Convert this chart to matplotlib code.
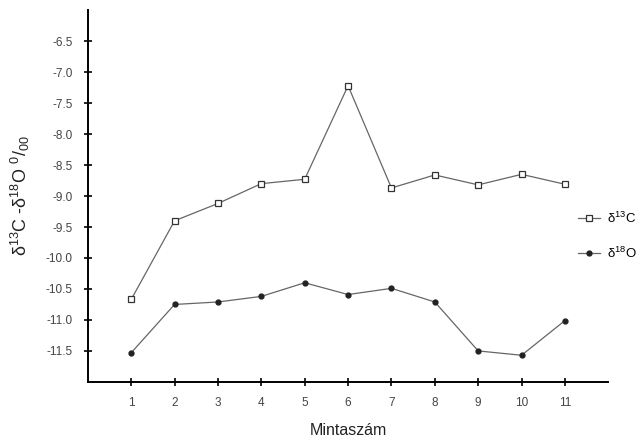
import matplotlib
matplotlib.use("Agg")
import matplotlib.pyplot as plt

samples = [1, 2, 3, 4, 5, 6, 7, 8, 9, 10, 11]
d13C = [-10.67, -9.40, -9.12, -8.80, -8.73, -7.22, -8.87, -8.66, -8.82, -8.65, -8.81]
d18O = [-11.53, -10.75, -10.71, -10.62, -10.40, -10.59, -10.49, -10.71, -11.50, -11.57, -11.01]
yticks = [-11.5, -11.0, -10.5, -10.0, -9.5, -9.0, -8.5, -8.0, -7.5, -7.0, -6.5]
ytick_labels = ["-11.5", "-11.0", "-10.5", "-10.0", "-9.5", "-9.0", "-8.5", "-8.0", "-7.5", "-7.0", "-6.5"]

plt.rcParams['font.family'] = ['Liberation Sans', 'DejaVu Sans']
plt.rcParams['mathtext.default'] = 'regular'

fig = plt.figure(figsize=(6.41, 4.41), dpi=100)
ax = fig.add_axes([0.137, 0.134, 0.812, 0.843])

lc, = ax.plot(samples, d13C, color='#666666', lw=0.9, marker='s', ms=4,
              mfc='white', mec='#333333', mew=0.9, label='δ$^{13}$C')
lo, = ax.plot(samples, d18O, color='#666666', lw=0.9, marker='o', ms=3.5,
              mfc='#222222', mec='#222222', label='δ$^{18}$O')

ax.set_xlim(0, 12)
ax.set_ylim(-12.0, -6.0)
ax.set_xticks(samples)
ax.set_xticklabels([str(s) for s in samples], fontsize=8.5, color='#444444')
ax.set_yticks(yticks)
ax.set_yticklabels(ytick_labels, fontsize=8.5, color='#444444')
ax.tick_params(direction='inout', length=6, width=1.2, pad=8)
for s in ['top', 'right']:
    ax.spines[s].set_visible(False)
for s in ['left', 'bottom']:
    ax.spines[s].set_linewidth(1.4)

ax.set_xlabel('Mintaszám', fontsize=11.5, color='#222222', labelpad=10)
ax.set_ylabel('δ$^{13}$C -δ$^{18}$O $^{0}/_{00}$', fontsize=13, color='#222222', labelpad=10)

fig.legend(handles=[lc, lo], loc='center left', bbox_to_anchor=(0.883, 0.465),
           frameon=False, fontsize=9.5, handlelength=1.7, labelspacing=1.5,
           handletextpad=0.5)

fig.savefig('out.png', dpi=100)
